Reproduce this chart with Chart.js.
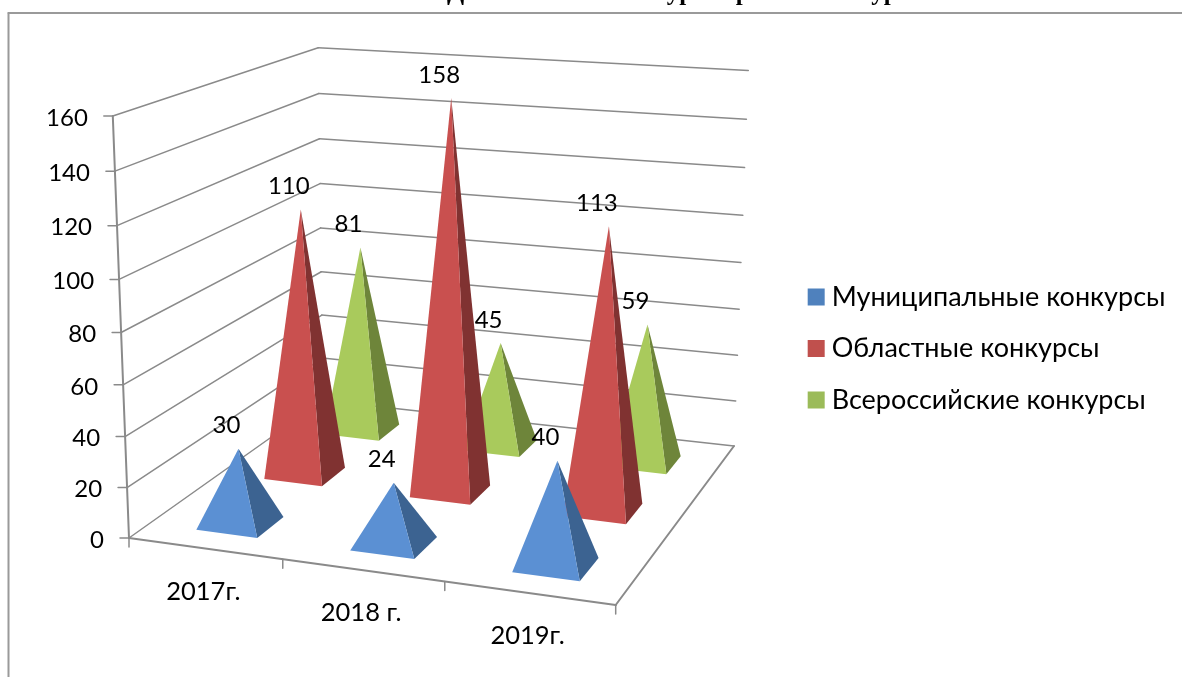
<!DOCTYPE html>
<html>
<head>
<meta charset="utf-8">
<title>Достижения в конкурсах</title>
<script src="https://cdn.jsdelivr.net/npm/chart.js@4/dist/chart.umd.min.js"></script>
<style>
  html, body { margin: 0; padding: 0; background: #fff; overflow: hidden; }
  canvas { display: block; }
</style>
</head>
<body>
<canvas id="chart" width="1182" height="677"></canvas>
<script>
// -------------------- DATA --------------------
const titleText = "Достижения в конкурсах различного уровня";
const categories = ["2017г.", "2018 г.", "2019г."];
const municipal = [30, 24, 40];
const regional = [110, 158, 113];
const allRussian = [81, 45, 59];
const yTicks = [0, 20, 40, 60, 80, 100, 120, 140, 160];

// -------------------- STYLE --------------------
const FONT = "Lato, Carlito, 'Open Sans', sans-serif";
const GRID = "#8a8a8a";
const frontColors = ["#5b90d3", "#c9504f", "#a9ca5c"];
const sideColors = ["#3c6391", "#803231", "#6e853a"];

// corners of the 3D box on the page (floor and top of the walls)
const box = {
  fl: [129, 538], fr: [615.7, 605], br: [734, 446], bl: [323, 400.5],
  flTop: [112.7, 115.7], blTop: [318.3, 48.3], brTop: [748.3, 70]
};

// -------------------- PROJECTION --------------------
function makeProjection(b) {
  const [x0, y0] = b.fl, [x1, y1] = b.fr, [x2, y2] = b.br, [x3, y3] = b.bl;
  const dx1 = x1 - x2, dx2 = x3 - x2, sx = x0 - x1 + x2 - x3;
  const dy1 = y1 - y2, dy2 = y3 - y2, sy = y0 - y1 + y2 - y3;
  const den = dx1 * dy2 - dx2 * dy1;
  const g = (sx * dy2 - dx2 * sy) / den;
  const h = (dx1 * sy - sx * dy1) / den;
  const a = x1 - x0 + g * x1, c = x3 - x0 + h * x3;
  const d = y1 - y0 + g * y1, e = y3 - y0 + h * y3;

  // height column: least squares over the three known top corners
  const tops = [[0, 0, b.flTop], [0, 1, b.blTop], [1, 1, b.brTop]].map(([u, v, t]) => {
    const w = g * u + h * v + 1;
    return {
      x: t[0], y: t[1],
      bx: t[0] * w - (a * u + c * v + x0),
      by: t[1] * w - (d * u + e * v + y0)
    };
  });
  const mean = k => tops.reduce((s, t) => s + t[k], 0) / tops.length;
  const mx = mean("x"), my = mean("y"), mbx = mean("bx"), mby = mean("by");
  let num = 0, dn = 0;
  tops.forEach(t => {
    num += (t.bx - mbx) * (t.x - mx) + (t.by - mby) * (t.y - my);
    dn += (t.x - mx) ** 2 + (t.y - my) ** 2;
  });
  const r = -num / dn;
  const p = mbx + r * mx, q = mby + r * my;

  return (u, v, z) => {
    const w = g * u + h * v + r * z + 1;
    return [(a * u + c * v + p * z + x0) / w, (d * u + e * v + q * z + y0) / w];
  };
}
const project = makeProjection(box);

function line(ctx, a, b, color, width) {
  ctx.strokeStyle = color;
  ctx.lineWidth = width;
  ctx.beginPath();
  ctx.moveTo(a[0], a[1]);
  ctx.lineTo(b[0], b[1]);
  ctx.stroke();
}

function tri(ctx, a, b, c, color) {
  ctx.fillStyle = color;
  ctx.beginPath();
  ctx.moveTo(a[0], a[1]);
  ctx.lineTo(b[0], b[1]);
  ctx.lineTo(c[0], c[1]);
  ctx.closePath();
  ctx.fill();
}

// scale position -> 0..1 inside the box
function heightOf(chart, value) {
  const y = chart.scales.y;
  return (y.bottom - y.getPixelForValue(value)) / (y.bottom - y.top);
}
function acrossOf(chart, index) {
  const x = chart.scales.x;
  return (x.getPixelForValue(index) - x.left) / x.width;
}
function depthOf(chart, dsIndex) {
  return (dsIndex + 0.5) / chart.data.datasets.length - 0.012;
}
function apexOf(chart, dsIndex, i) {
  const value = chart.data.datasets[dsIndex].data[i];
  return project(acrossOf(chart, i) + 0.005, depthOf(chart, dsIndex), heightOf(chart, value));
}

// -------------------- PLUGIN --------------------
const box3d = {
  id: "box3d",
  beforeDatasetsDraw(chart) {
    const ctx = chart.ctx;
    ctx.save();
    ctx.lineCap = "round";

    // frame of the chart and the clipped title
    line(ctx, [8.5, 13], [8.5, 677], "#9a9a9a", 2);
    line(ctx, [8.5, 13], [1182, 13], "#9a9a9a", 2);
    ctx.fillStyle = "#000";
    ctx.font = "bold 25px 'Liberation Serif', serif";
    ctx.textAlign = "left";
    ctx.textBaseline = "alphabetic";
    ctx.fillText(titleText, 447, 0);

    // walls
    chart.scales.y.ticks.forEach(t => {
      const z = heightOf(chart, t.value);
      const fl = project(0, 0, z), bl = project(0, 1, z), br = project(1, 1, z);
      line(ctx, fl, bl, GRID, 1.5);
      line(ctx, bl, br, GRID, 1.5);
      line(ctx, fl, [fl[0] - 9, fl[1]], GRID, 1.5);
      ctx.fillStyle = "#000";
      ctx.font = "24px " + FONT;
      ctx.textAlign = "right";
      ctx.textBaseline = "middle";
      ctx.fillText(t.value, fl[0] - 25, fl[1] + 2);
    });

    // y axis, floor edges
    line(ctx, project(0, 0, 0), project(0, 0, 1), GRID, 2);
    line(ctx, project(0, 0, 0), project(1, 0, 0), GRID, 2);
    line(ctx, project(1, 0, 0), project(1, 1, 0), GRID, 2);

    // x ticks and category labels
    const count = chart.data.labels.length;
    for (let i = 0; i <= count; i++) {
      const p = project(i / count, 0, 0);
      line(ctx, p, [p[0], p[1] + 9], GRID, 1.5);
    }
    chart.data.labels.forEach((label, i) => {
      const p = project(acrossOf(chart, i), 0, 0);
      ctx.fillStyle = "#000";
      ctx.font = "25.5px " + FONT;
      ctx.textAlign = "center";
      ctx.textBaseline = "middle";
      ctx.fillText(label, p[0] - 1.5, p[1] + 43);
    });
    ctx.restore();
  },
  // bars are replaced by pyramids; datasets come in back to front order
  beforeDatasetDraw(chart, args) {
    const ctx = chart.ctx;
    const ds = chart.data.datasets[args.index];
    const halfU = 0.067, halfV = 0.065;
    ds.data.forEach((value, i) => {
      const u = acrossOf(chart, i) + 0.005, v = depthOf(chart, args.index);
      const top = apexOf(chart, args.index, i);
      const fl = project(u - halfU, v - halfV, 0);
      const fr = project(u + halfU, v - halfV, 0);
      const br = project(u + halfU, v + halfV, 0);
      tri(ctx, fr, br, top, sideColors[args.index]);
      tri(ctx, fl, fr, top, frontColors[args.index]);
    });
    return false;
  },
  afterDatasetsDraw(chart) {
    const ctx = chart.ctx;
    ctx.save();
    ctx.fillStyle = "#000";
    ctx.font = "24px " + FONT;
    ctx.textAlign = "center";
    ctx.textBaseline = "middle";
    chart.data.datasets.forEach((ds, k) => {
      ds.data.forEach((value, i) => {
        const top = apexOf(chart, k, i);
        ctx.fillText(value, top[0] - 12, top[1] - 23);
      });
    });
    ctx.restore();
  }
};

// -------------------- CHART --------------------
new Chart(document.getElementById("chart"), {
  type: "bar",
  data: {
    labels: categories,
    datasets: [
      { label: "Муниципальные конкурсы", data: municipal, backgroundColor: "#4f81bd", borderWidth: 0 },
      { label: "Областные конкурсы", data: regional, backgroundColor: "#c0504d", borderWidth: 0 },
      { label: "Всероссийские конкурсы", data: allRussian, backgroundColor: "#9bbb59", borderWidth: 0 }
    ]
  },
  options: {
    responsive: false,
    animation: false,
    layout: { padding: { top: 20, right: 6.5 } },
    scales: {
      x: { display: false },
      y: {
        display: false,
        min: yTicks[0],
        max: yTicks[yTicks.length - 1],
        afterBuildTicks: scale => { scale.ticks = yTicks.map(v => ({ value: v })); }
      }
    },
    plugins: {
      title: { display: false },
      tooltip: { enabled: false },
      legend: {
        position: "right",
        align: "center",
        labels: {
          font: { family: FONT, size: 27 },
          color: "#000",
          // narrow box width keeps the text close to the square swatch
          usePointStyle: true,
          pointStyle: "rect",
          boxWidth: 4,
          boxHeight: 17,
          padding: 24.5
        }
      }
    }
  },
  plugins: [box3d]
});
</script>
</body>
</html>
